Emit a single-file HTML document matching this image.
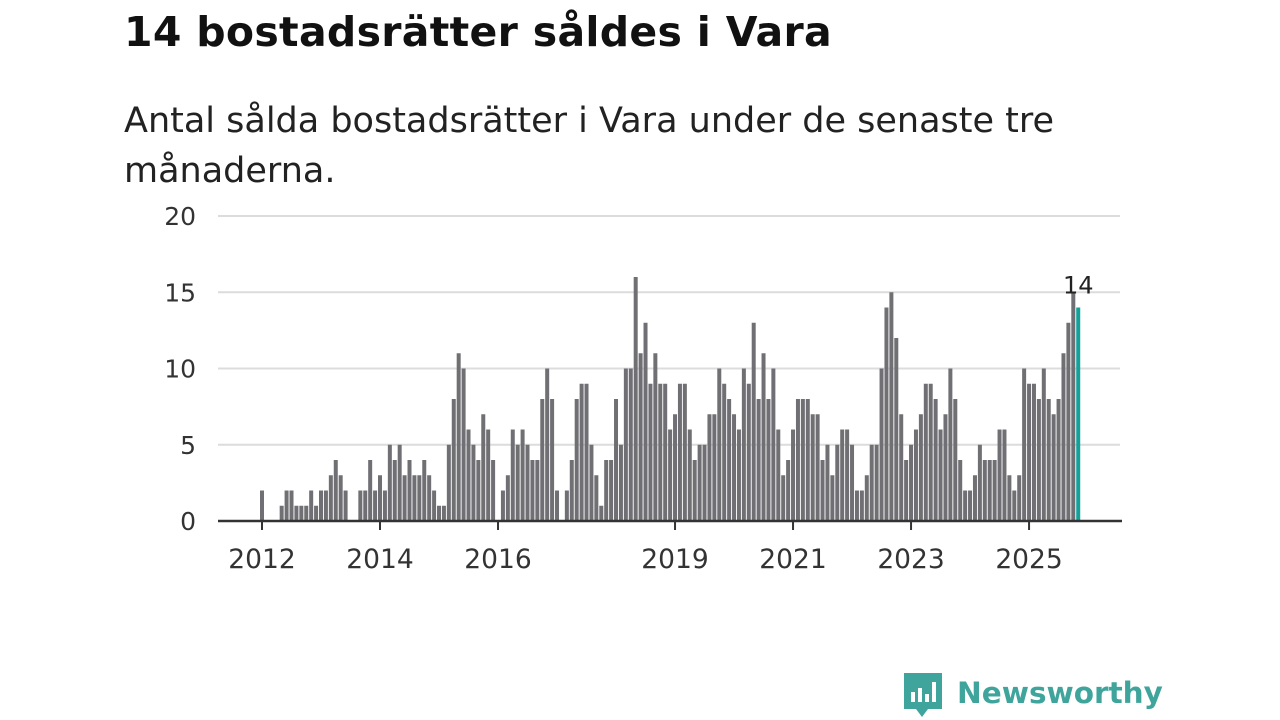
<!DOCTYPE html>
<html><head><meta charset="utf-8">
<style>
body{margin:0;width:1280px;height:720px;background:#fff;overflow:hidden;font-family:"Liberation Sans","DejaVu Sans",sans-serif;}
#title{position:absolute;left:124px;top:8px;font-size:41px;font-weight:bold;color:#111;margin:0;font-family:"DejaVu Sans","Liberation Sans",sans-serif;letter-spacing:0.3px}
#sub{position:absolute;left:124px;top:96px;font-size:35px;color:#222;line-height:50px;width:1050px;font-family:"DejaVu Sans","Liberation Sans",sans-serif;font-weight:normal}
svg{position:absolute;left:0;top:0}
</style></head><body>
<h1 id="title">14 bostadsrätter såldes i Vara</h1>
<div id="sub">Antal sålda bostadsrätter i Vara under de senaste tre månaderna.</div>
<svg id="chart" width="1280" height="720"></svg>
<script>
const values=[2,0,0,0,1,2,2,1,1,1,2,1,2,2,3,4,3,2,0,0,2,2,4,2,3,2,5,4,5,3,4,3,3,4,3,2,1,1,5,8,11,10,6,5,4,7,6,4,0,2,3,6,5,6,5,4,4,8,10,8,2,0,2,4,8,9,9,5,3,1,4,4,8,5,10,10,16,11,13,9,11,9,9,6,7,9,9,6,4,5,5,7,7,10,9,8,7,6,10,9,13,8,11,8,10,6,3,4,6,8,8,8,7,7,4,5,3,5,6,6,5,2,2,3,5,5,10,14,15,12,7,4,5,6,7,9,9,8,6,7,10,8,4,2,2,3,5,4,4,4,6,6,3,2,3,10,9,9,8,10,8,7,8,11,13,15,14];
const yTicks=[0,5,10,15,20];
const xTickLabels=["2012","2014","2016","2019","2021","2023","2025"];
const xTickIndex=[0,24,48,84,108,132,156];
const lastLabel="14";
const NS="http://www.w3.org/2000/svg";
const svg=document.getElementById('chart');
const x0=262,mw=4.917,yb=521,yu=15.25;
const X=i=>x0+i*mw, Y=v=>yb-v*yu;
function mk(t,a){const e=document.createElementNS(NS,t);for(const k in a)e.setAttribute(k,a[k]);svg.appendChild(e);return e;}
yTicks.forEach(v=>{
  if(v>0){const g=mk('line',{x1:218,x2:1120,y1:Y(v),y2:Y(v),stroke:'#dcdcdc','stroke-width':2});
  
  }
  const t=mk('text',{x:196,y:Y(v)+9,'text-anchor':'end','font-size':25,fill:'#333','font-family':'DejaVu Sans, Liberation Sans, sans-serif'});
  t.textContent=v;
  
  
});
values.forEach((v,i)=>{
  if(v<=0)return;
  const last=i===values.length-1;
  const r=mk('rect',{x:X(i)-2,y:Y(v),width:4,height:v*yu,fill:last?'#13a19a':'#707074'});
  
  
});
const ax=mk('line',{x1:218,x2:1122,y1:yb,y2:yb,stroke:'#333','stroke-width':2.5});


xTickLabels.forEach((l,k)=>{
  const xx=X(xTickIndex[k]);
  const tk=mk('line',{x1:xx,x2:xx,y1:yb,y2:yb+9,stroke:'#333','stroke-width':2});
  
  
  const t=mk('text',{x:xx,y:568,'text-anchor':'middle','font-size':26.5,fill:'#333','font-family':'DejaVu Sans, Liberation Sans, sans-serif'});
  t.textContent=l;
  
  
});
const li=values.length-1;
const lt=mk('text',{x:X(li),y:Y(values[li])-14,'text-anchor':'middle','font-size':24,fill:'#222','font-family':'DejaVu Sans, Liberation Sans, sans-serif'});
lt.textContent=lastLabel;


</script>
<svg width="1280" height="720" style="pointer-events:none">
<path d="M904 673 h38 v36 h-14 l-6 8 l-6 -8 h-12 z" fill="#3fa59c"/>
<rect x="911" y="692" width="4" height="10" fill="#fff"/><rect x="918" y="688" width="4" height="14" fill="#fff"/><rect x="925" y="694" width="4" height="8" fill="#fff"/><rect x="932" y="682" width="4" height="20" fill="#fff"/>
<text x="957" y="703" font-size="29.5" font-weight="bold" fill="#3fa59c" font-family="DejaVu Sans, Liberation Sans, sans-serif">Newsworthy</text>
</svg>
</body></html>
